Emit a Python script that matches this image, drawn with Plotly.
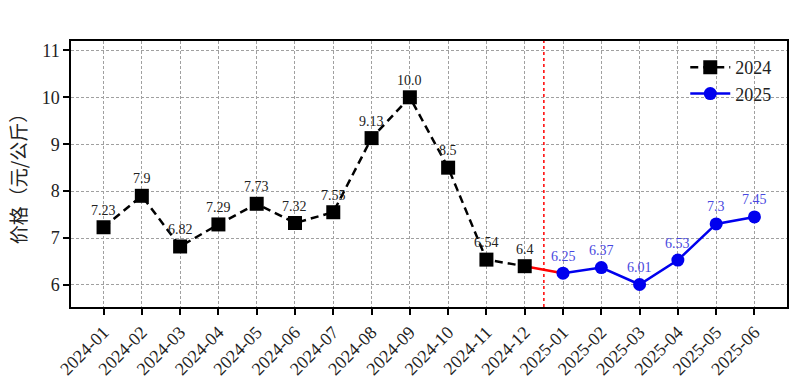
import plotly.graph_objects as go

months_2024 = ["2024-01", "2024-02", "2024-03", "2024-04", "2024-05", "2024-06",
               "2024-07", "2024-08", "2024-09", "2024-10", "2024-11", "2024-12"]
prices_2024 = [7.23, 7.9, 6.82, 7.29, 7.73, 7.32, 7.55, 9.13, 10.0, 8.5, 6.54, 6.4]
months_2025 = ["2025-01", "2025-02", "2025-03", "2025-04", "2025-05", "2025-06"]
prices_2025 = [6.25, 6.37, 6.01, 6.53, 7.3, 7.45]

all_months = months_2024 + months_2025
idx = {m: i for i, m in enumerate(all_months)}
x24 = [idx[m] for m in months_2024]
x25 = [idx[m] for m in months_2025]

serif = "'Liberation Serif', 'DejaVu Serif', serif"
cjk = "'Noto Sans CJK SC'"

fig = go.Figure()
fig.add_trace(go.Scatter(x=[x24[-1], x25[0]], y=[prices_2024[-1], prices_2025[0]],
                         mode="lines", line=dict(color="red", width=2.5),
                         showlegend=False, hoverinfo="skip"))
fig.add_trace(go.Scatter(x=x24, y=prices_2024, mode="lines+markers", name="2024",
                         line=dict(color="black", width=2.5, dash="8px,5px"),
                         marker=dict(symbol="square", size=14, color="black")))
fig.add_trace(go.Scatter(x=x25, y=prices_2025, mode="lines+markers", name="2025",
                         line=dict(color="#0000ee", width=2.5),
                         marker=dict(symbol="circle", size=13, color="#0000ee")))

def fmt(v):
    return str(float(v))

for x, v in zip(x24, prices_2024):
    fig.add_annotation(x=x, y=v, text=fmt(v), showarrow=False, yshift=17,
                       font=dict(family=serif, size=14, color="#222222"))
for x, v in zip(x25, prices_2025):
    fig.add_annotation(x=x, y=v, text=fmt(v), showarrow=False, yshift=17,
                       font=dict(family=serif, size=14, color="#4848e0"))

fig.add_shape(type="line", x0=11.5, x1=11.5, y0=0, y1=1, yref="paper",
              line=dict(color="red", width=1.5, dash="dot"))

fig.update_layout(
    width=801, height=392,
    margin=dict(l=71, r=14, t=41, b=85),
    plot_bgcolor="white", paper_bgcolor="white",
    showlegend=True,
    legend=dict(x=0.985, y=0.97, xanchor="right", yanchor="top",
                bgcolor="rgba(255,255,255,0)", font=dict(family=serif, size=18, color="#222"),
                itemwidth=40, tracegroupgap=2),
    xaxis=dict(range=[-0.85, 17.85], tickmode="array", tickvals=list(range(len(all_months))),
               ticktext=all_months, tickangle=-45, automargin=False,
               tickfont=dict(family=serif, size=18, color="#222"),
               showgrid=True, gridcolor="#a0a0a0", griddash="3px,2px", gridwidth=1,
               ticks="outside", ticklen=6, tickcolor="black", tickwidth=1.5,
               showline=True, linecolor="black", linewidth=1.5, mirror=True, zeroline=False),
    yaxis=dict(range=[5.53, 11.2], tickvals=[6, 7, 8, 9, 10, 11], automargin=False,
               tickfont=dict(family=serif, size=18, color="#222"),
               title=dict(text="价格（元/公斤）", font=dict(family=cjk, size=19, color="#222"), standoff=10),
               showgrid=True, gridcolor="#a0a0a0", griddash="3px,2px", gridwidth=1,
               ticks="outside", ticklen=6, tickcolor="black", tickwidth=1.5,
               showline=True, linecolor="black", linewidth=1.5, mirror=True, zeroline=False),
)

fig.write_html("out.html", config={"displayModeBar": False},
               post_script="document.body.style.margin='0px';")
